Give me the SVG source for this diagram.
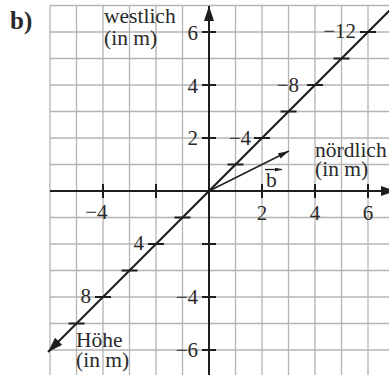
<svg xmlns="http://www.w3.org/2000/svg" width="389" height="375" viewBox="0 0 389 375">
<defs>
<style>
.grid line{stroke:#b4b4b4;stroke-width:1.3}
.ax{stroke:#1e1e1e;stroke-width:2;fill:none}
.tk{stroke:#1e1e1e;stroke-width:2}
.t{font-family:"Liberation Serif","Times New Roman",serif;fill:#2a2a2a}
.lab{font-size:21.5px}
.num{font-size:21px}
</style>
<marker id="ah" markerUnits="userSpaceOnUse" markerWidth="16" markerHeight="11" refX="15" refY="5" orient="auto"><path d="M0,0 L15,5 L0,10 z" fill="#1e1e1e"/></marker>
<marker id="as" markerUnits="userSpaceOnUse" markerWidth="12" markerHeight="7" refX="11" refY="3" orient="auto"><path d="M0,0 L11,3 L0,6 z" fill="#1e1e1e"/></marker>
<marker id="ax2" markerUnits="userSpaceOnUse" markerWidth="8" markerHeight="5" refX="7" refY="2" orient="auto"><path d="M0,0 L7,2 L0,4 z" fill="#1e1e1e"/></marker>
</defs>
<rect width="389" height="375" fill="#fff"/>
<g id="grid" class="grid">
<line x1="50" y1="5.5" x2="50" y2="375"/>
<line x1="76.5" y1="5.5" x2="76.5" y2="375"/>
<line x1="103" y1="5.5" x2="103" y2="375"/>
<line x1="129.5" y1="5.5" x2="129.5" y2="375"/>
<line x1="156" y1="5.5" x2="156" y2="375"/>
<line x1="182.5" y1="5.5" x2="182.5" y2="375"/>
<line x1="235.5" y1="5.5" x2="235.5" y2="375"/>
<line x1="262" y1="5.5" x2="262" y2="375"/>
<line x1="288.5" y1="5.5" x2="288.5" y2="375"/>
<line x1="315" y1="5.5" x2="315" y2="375"/>
<line x1="341.5" y1="5.5" x2="341.5" y2="375"/>
<line x1="368" y1="5.5" x2="368" y2="375"/>
<line x1="50" y1="5.5" x2="389" y2="5.5"/>
<line x1="50" y1="32" x2="389" y2="32"/>
<line x1="50" y1="58.5" x2="389" y2="58.5"/>
<line x1="50" y1="85" x2="389" y2="85"/>
<line x1="50" y1="111.5" x2="389" y2="111.5"/>
<line x1="50" y1="138" x2="389" y2="138"/>
<line x1="50" y1="164.5" x2="389" y2="164.5"/>
<line x1="50" y1="217.5" x2="389" y2="217.5"/>
<line x1="50" y1="244" x2="389" y2="244"/>
<line x1="50" y1="270.5" x2="389" y2="270.5"/>
<line x1="50" y1="297" x2="389" y2="297"/>
<line x1="50" y1="323.5" x2="389" y2="323.5"/>
<line x1="50" y1="350" x2="389" y2="350"/>
</g>
<g id="connectors">
<line id="x-axis" class="ax" x1="50" y1="191" x2="396" y2="191" marker-end="url(#ah)"/>
<line id="y-axis" class="ax" x1="209" y1="375" x2="209" y2="6" marker-end="url(#ah)"/>
<line id="z-axis" class="ax" x1="395" y1="5" x2="48" y2="352" marker-end="url(#ah)"/>
<line id="vector-b" stroke="#1e1e1e" stroke-width="1.4" x1="209" y1="191" x2="289" y2="151" marker-end="url(#as)"/>
</g>
<g id="ticks" class="tk">
<line x1="103" y1="184" x2="103" y2="198"/>
<line x1="156" y1="184" x2="156" y2="198"/>
<line x1="262" y1="184" x2="262" y2="198"/>
<line x1="315" y1="184" x2="315" y2="198"/>
<line x1="368" y1="184" x2="368" y2="198"/>
<line x1="202" y1="32" x2="216" y2="32"/>
<line x1="202" y1="85" x2="216" y2="85"/>
<line x1="202" y1="138" x2="216" y2="138"/>
<line x1="202" y1="244" x2="216" y2="244"/>
<line x1="202" y1="297" x2="216" y2="297"/>
<line x1="202" y1="350" x2="216" y2="350"/>
<line x1="227.5" y1="164.5" x2="243.5" y2="164.5"/>
<line x1="254" y1="138" x2="270" y2="138"/>
<line x1="280.5" y1="111.5" x2="296.5" y2="111.5"/>
<line x1="307" y1="85" x2="323" y2="85"/>
<line x1="333.5" y1="58.5" x2="349.5" y2="58.5"/>
<line x1="360" y1="32" x2="376" y2="32"/>
<line x1="174.5" y1="217.5" x2="190.5" y2="217.5"/>
<line x1="148" y1="244" x2="164" y2="244"/>
<line x1="121.5" y1="270.5" x2="137.5" y2="270.5"/>
<line x1="95" y1="297" x2="111" y2="297"/>
<line x1="68.5" y1="323.5" x2="84.5" y2="323.5"/>
</g>
<g id="numbers" class="t num">
<text x="198" y="39.5" text-anchor="end">6</text>
<text x="198" y="92.5" text-anchor="end">4</text>
<text x="198" y="145" text-anchor="end">2</text>
<text x="198" y="304" text-anchor="end">−4</text>
<text x="198" y="357" text-anchor="end">−6</text>
<text x="262" y="220" text-anchor="middle">2</text>
<text x="315" y="220" text-anchor="middle">4</text>
<text x="368" y="220" text-anchor="middle">6</text>
<text x="107.5" y="218.5" text-anchor="end">−4</text>
<text x="251" y="144.5" text-anchor="end">−4</text>
<text x="299" y="91.7" text-anchor="end">−8</text>
<text x="356" y="38.3" text-anchor="end">−12</text>
<text x="144" y="250" text-anchor="end">4</text>
<text x="91" y="302.5" text-anchor="end">8</text>
</g>
<g id="label-westlich" class="t lab">
<text x="104" y="23.3">westlich</text>
<text x="104" y="45">(in m)</text>
</g>
<g id="label-noerdlich" class="t lab">
<text x="315" y="156.7">nördlich</text>
<text x="315" y="176">(in m)</text>
</g>
<g id="label-hoehe" class="t lab">
<text x="76" y="347.3">Höhe</text>
<text x="76" y="366.7">(in m)</text>
</g>
<g id="label-b">
<text class="t lab" x="266" y="187.3">b</text>
<line stroke="#1e1e1e" stroke-width="1.3" x1="265" y1="169.5" x2="282" y2="169.5" marker-end="url(#ax2)"/>
</g>
<text id="part" class="t" x="10" y="29.3" font-size="25" font-weight="bold" fill="#111">b)</text>
</svg>
